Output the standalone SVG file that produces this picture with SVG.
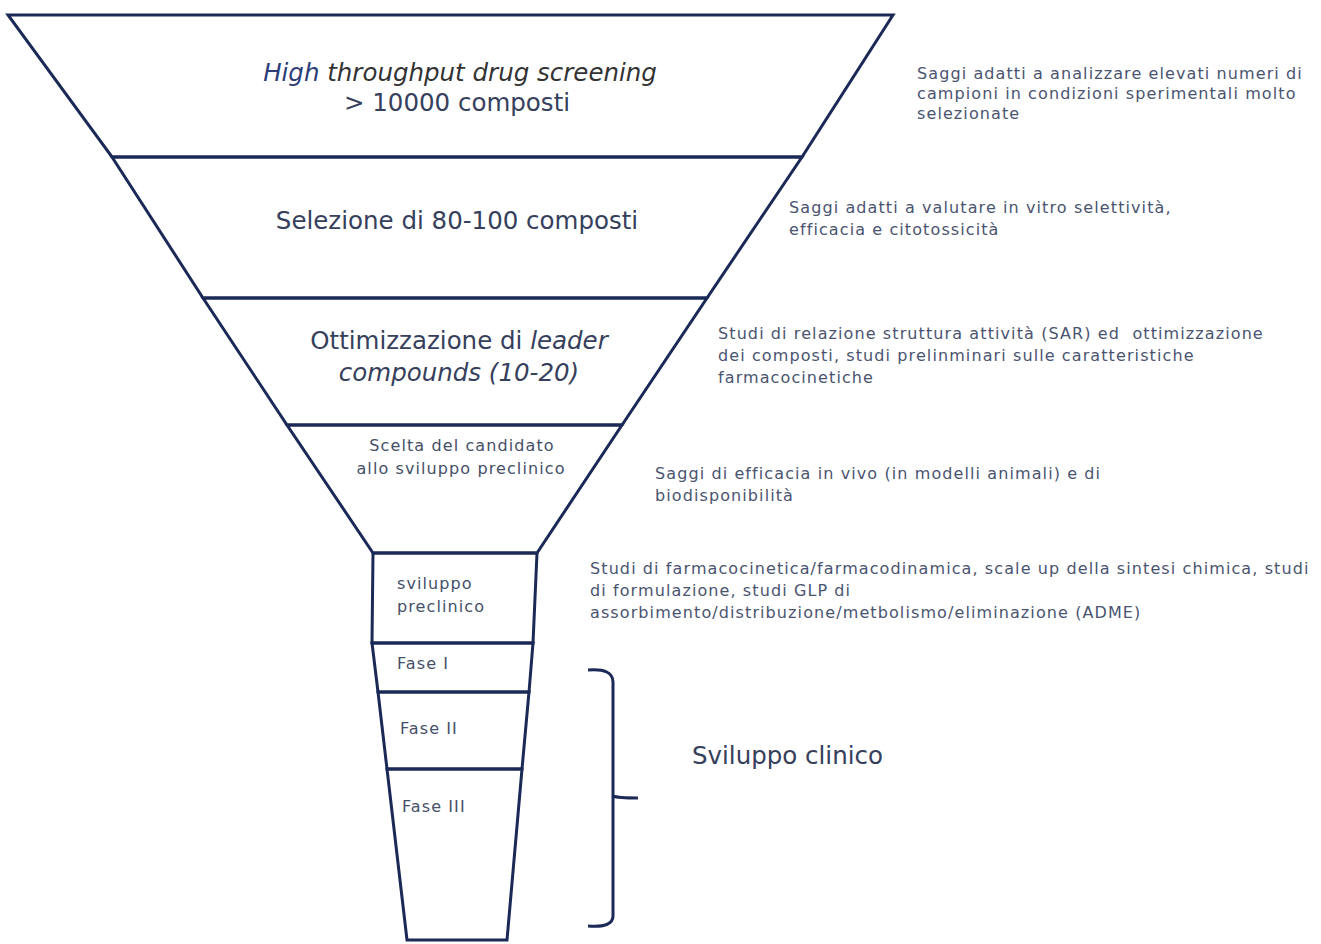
<svg xmlns="http://www.w3.org/2000/svg" width="1321" height="944" viewBox="0 0 1321 944">
<style>
.edge{fill:none;stroke:#1b2957;stroke-width:3;stroke-linejoin:miter}
.big{font-family:"DejaVu Sans","Liberation Sans",sans-serif;font-size:24.5px;fill:#36405c}
.mid{font-family:"DejaVu Sans","Liberation Sans",sans-serif;font-size:16px;letter-spacing:1.1px;fill:#454f68}
.note{font-family:"DejaVu Sans","Liberation Sans",sans-serif;font-size:16px;letter-spacing:1.1px;fill:#4a5470}
.it{font-style:italic}
</style>
<rect width="1321" height="944" fill="#ffffff"/>
<g id="connectors">
<path class="edge" d="M588,670 Q613,668 613,682 L613,916 Q613,928 588,926 M613,796 Q618,798 638,798"/>
</g>
<g id="stage1">
<path class="edge" d="M8,15 L893,15 L802,157 L112,157 Z"/>
<text class="big it" x="460" y="81" text-anchor="middle"><tspan fill="#2c3d78">High</tspan><tspan fill="#333"> throughput drug screening</tspan></text>
<text class="big" x="457" y="111" text-anchor="middle" fill="#333">&gt; 10000 composti</text>
</g>
<g id="stage2">
<path class="edge" d="M112,157 L802,157 L707,298 L203,298 Z"/>
<text class="big" x="457" y="229" text-anchor="middle">Selezione di 80-100 composti</text>
</g>
<g id="stage3">
<path class="edge" d="M203,298 L707,298 L622,425 L287,425 Z"/>
<text class="big" x="459" y="349" text-anchor="middle">Ottimizzazione di <tspan class="it">leader</tspan></text>
<text class="big it" x="459" y="381" text-anchor="middle">compounds (10-20)</text>
</g>
<g id="stage4">
<path class="edge" d="M287,425 L622,425 L537,553 L373,553 Z"/>
<text class="mid" x="462" y="451" text-anchor="middle">Scelta del candidato</text>
<text class="mid" x="461" y="474" text-anchor="middle">allo sviluppo preclinico</text>
</g>
<g id="stage5">
<path class="edge" d="M373,553 L537,553 L533,643 L372,643 Z"/>
<text class="mid" x="397" y="589">sviluppo</text>
<text class="mid" x="397" y="612">preclinico</text>
</g>
<g id="fase1">
<path class="edge" d="M372,643 L533,643 L529,692 L378,692 Z"/>
<text class="mid" x="397" y="669">Fase I</text>
</g>
<g id="fase2">
<path class="edge" d="M378,692 L529,692 L522,769 L387,769 Z"/>
<text class="mid" x="400" y="734">Fase II</text>
</g>
<g id="fase3">
<path class="edge" d="M387,769 L522,769 L507,940 L407,940 Z"/>
<text class="mid" x="402" y="812">Fase III</text>
</g>
<g id="note1">
<text class="note" x="917" y="79">Saggi adatti a analizzare elevati numeri di</text>
<text class="note" x="917" y="99">campioni in condizioni sperimentali molto</text>
<text class="note" x="917" y="119">selezionate</text>
</g>
<g id="note2">
<text class="note" x="789" y="213">Saggi adatti a valutare in vitro selettività,</text>
<text class="note" x="789" y="235">efficacia e citotossicità</text>
</g>
<g id="note3">
<text class="note" x="718" y="339">Studi di relazione struttura attività (SAR) ed&#160; ottimizzazione</text>
<text class="note" x="718" y="361">dei composti, studi prelinminari sulle caratteristiche</text>
<text class="note" x="718" y="383">farmacocinetiche</text>
</g>
<g id="note4">
<text class="note" x="655" y="479">Saggi di efficacia in vivo (in modelli animali) e di</text>
<text class="note" x="655" y="501">biodisponibilità</text>
</g>
<g id="note5">
<text class="note" x="590" y="574">Studi di farmacocinetica/farmacodinamica, scale up della sintesi chimica, studi</text>
<text class="note" x="590" y="596">di formulazione, studi GLP di</text>
<text class="note" x="590" y="618">assorbimento/distribuzione/metbolismo/eliminazione (ADME)</text>
</g>
<g id="clinico">
<text class="big" x="692" y="764">Sviluppo clinico</text>
</g>
</svg>
